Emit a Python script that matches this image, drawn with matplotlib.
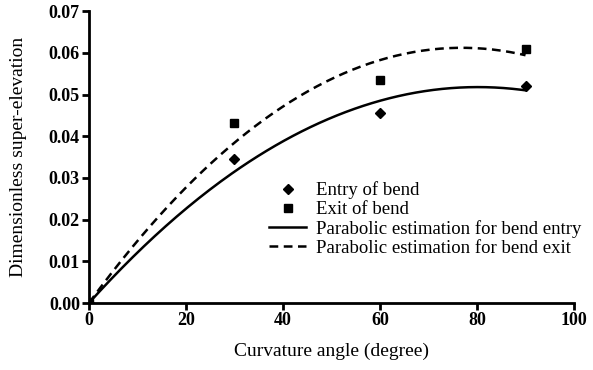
import numpy as np
import matplotlib
matplotlib.use("Agg")
import matplotlib.pyplot as plt

plt.rcParams['font.family'] = ['Liberation Serif', 'DejaVu Serif']

# measured points
angle = [0, 30, 60, 90]
entry = [0.0, 0.0345, 0.0455, 0.0520]
exit_ = [0.0, 0.0432, 0.0535, 0.0610]


def fit_through_origin(x, y):
    """least squares y = a x + b x^2"""
    x = np.asarray(x, float)
    A = np.column_stack([x, x ** 2])
    coef, *_ = np.linalg.lstsq(A, np.asarray(y, float), rcond=None)
    return coef


xs = np.linspace(0, 90, 200)
a1, b1 = fit_through_origin(angle, entry)
a2, b2 = fit_through_origin(angle, exit_)

fig = plt.figure(figsize=(5.93, 3.70), dpi=100)
ax = fig.add_axes([0.150, 0.181, 0.818, 0.789])

ax.plot(angle, entry, 'D', color='black', ms=5.5, label='Entry of bend', zorder=3)
ax.plot(angle, exit_, 's', color='black', ms=6, label='Exit of bend', zorder=3)
ax.plot(xs, a1 * xs + b1 * xs ** 2, '-', color='black', lw=1.8,
        label='Parabolic estimation for bend entry')
ax.plot(xs, a2 * xs + b2 * xs ** 2, '--', color='black', lw=1.8, dashes=(3.5, 2.2),
        label='Parabolic estimation for bend exit')

ax.set_xlim(0, 100)
ax.set_ylim(0, 0.07)
ax.set_xticks([0, 20, 40, 60, 80, 100])
ax.set_yticks(np.arange(0, 0.071, 0.01))
ax.yaxis.set_major_formatter(plt.FormatStrFormatter('%.2f'))
for s in ['top', 'right']:
    ax.spines[s].set_visible(False)
for s in ['left', 'bottom']:
    ax.spines[s].set_linewidth(2)
ax.tick_params(width=2, length=5, labelsize=13, pad=1.5)
for lab in ax.get_xticklabels() + ax.get_yticklabels():
    lab.set_fontweight('bold')

ax.set_xlabel('Curvature angle (degree)', fontsize=14, labelpad=10)
ax.set_ylabel('Dimensionless super-elevation', fontsize=14)
ax.yaxis.set_label_coords(-0.128, 0.5)

ax.legend(loc='lower right', bbox_to_anchor=(581 / 593, (370 - 257) / 370),
          bbox_transform=fig.transFigure, frameon=False,
          fontsize=13.5, handlelength=2.0, handletextpad=0.5,
          labelspacing=0.1, borderaxespad=0, borderpad=0)

fig.savefig('out.png', dpi=100)
